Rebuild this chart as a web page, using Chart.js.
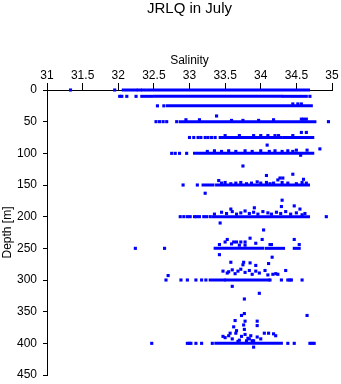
<!DOCTYPE html>
<html>
<head>
<meta charset="utf-8">
<script src="https://cdn.jsdelivr.net/npm/chart.js@4"></script>
<style>
  body { margin: 0; background: #fff; }
</style>
</head>
<body>
<canvas id="ctdChart" width="341" height="384"></canvas>
<script>
// salinity ticks and depth ticks
var salTicks = [31, 31.5, 32, 32.5, 33, 33.5, 34, 34.5, 35];
var depthTicks = [0, 50, 100, 150, 200, 250, 300, 350, 400, 450];

// dense runs of samples at the standard depths (start / end salinity)
var runDepth = [0, 0, 0, 0, 10, 10, 10, 25, 50, 75, 75, 100, 150, 150, 200, 250, 250, 250, 300, 300, 400];
var runFrom  = [32.07, 32.28, 32.34, 32.42, 32.33, 32.51, 34.32, 32.69, 32.87, 33.43, 34.33, 33.07, 33.19, 33.38, 33.33, 33.36, 34.08, 34.47, 33.29, 33.51, 33.37];
var runTo    = [32.25, 32.31, 32.38, 34.67, 32.47, 34.29, 34.64, 34.71, 34.76, 34.29, 34.73, 34.73, 33.33, 34.67, 34.67, 34.03, 34.32, 34.54, 33.49, 34.11, 34.29];

// single samples
var dotSal = [
  31.33, 31.95,
  32.02, 32.05, 32.12, 32.25, 34.69,
  32.55, 32.64, 34.45, 34.52, 34.57,
  32.53, 32.58, 32.63, 32.68, 32.82, 34.95, 33.38, 32.95, 33.14, 33.59, 33.75, 33.97, 34.18, 34.57, 34.60, 34.64,
  33.00, 33.06, 33.12, 33.16, 33.22, 33.26, 33.31, 33.36, 34.57, 34.64, 33.50, 33.70, 33.90, 34.00, 34.10, 34.20, 34.25, 34.45,
  32.75, 32.80, 32.86, 32.96, 34.83, 34.09, 34.50, 34.65, 34.56, 33.25, 33.35, 33.45, 33.55, 33.65, 33.78, 33.88, 34.00, 34.12, 34.20, 34.30, 34.38, 34.45, 33.75,
  32.91, 33.11, 34.08, 34.45, 34.60, 33.41, 34.27, 34.31, 34.24, 33.22, 33.45, 33.50, 33.58, 33.65, 33.72, 33.80, 33.87, 33.95, 34.00, 34.08, 34.13, 34.18, 34.30, 34.38, 34.50, 34.58, 34.64,
  32.87, 32.92, 32.97, 33.01, 33.07, 33.10, 33.14, 33.20, 33.24, 33.29, 34.92, 34.30, 34.47, 34.29, 33.91, 33.58, 34.55,
  33.35, 33.45, 33.52, 33.60, 33.66, 33.72, 33.78, 33.84, 33.90, 33.96, 34.03, 34.10, 34.15, 34.22, 34.28, 34.35, 34.42, 34.50, 34.58, 34.62, 33.43,
  32.24, 32.65, 34.04, 33.85, 34.02, 34.47, 33.53, 33.50, 33.62, 33.66, 33.72, 33.78, 33.93, 34.54, 34.15, 34.13, 33.42, 33.59, 33.70, 33.78, 33.42, 34.16,
  32.67, 32.88, 32.97, 33.09, 33.17, 33.23, 34.13, 34.29, 34.38, 34.41, 34.43, 34.58, 32.70, 33.58, 33.76, 33.85, 33.93, 34.11, 33.75, 34.35, 33.47, 33.53,
  33.55, 33.60, 33.64, 33.68, 33.72, 33.78, 33.84, 33.88, 33.93, 33.98, 34.06, 34.10, 34.17, 34.21, 34.24, 33.60, 33.98, 33.77,
  32.47, 32.97, 33.00, 33.02, 33.09, 33.17, 33.32, 34.38, 34.47, 34.69, 34.72, 34.75, 33.77, 33.73, 34.65, 33.64, 33.78, 33.95, 33.95, 33.76, 33.62, 33.66, 33.57, 33.77,
  33.47, 33.50, 33.55, 33.60, 33.65, 33.70, 33.73, 33.78, 33.82, 33.86, 33.90, 33.95, 34.00, 34.05, 34.11, 34.18, 34.21, 33.68, 33.80, 33.88, 33.84, 33.90
];
var dotDepth = [
  0, 0,
  10, 10, 10, 10, 10,
  25, 25, 22, 22, 22,
  50, 50, 50, 50, 50, 50, 41, 47, 47, 48, 48, 48, 47, 46, 46, 46,
  75, 75, 75, 75, 75, 75, 75, 75, 67, 67, 72, 72, 72, 72, 72, 72, 72, 72,
  100, 100, 100, 100, 93, 87, 95, 95, 103, 97, 96, 97, 96, 97, 96, 97, 96, 97, 96, 97, 96, 97, 120,
  150, 150, 135, 133, 141, 143, 139, 139, 142, 163, 147, 146, 148, 147, 146, 148, 147, 145, 147, 146, 148, 147, 146, 147, 148, 146, 147,
  200, 200, 200, 200, 200, 200, 200, 200, 200, 200, 200, 174, 183, 184, 186, 188, 188,
  196, 193, 195, 192, 196, 194, 191, 195, 193, 196, 192, 194, 196, 193, 195, 192, 196, 194, 197, 195, 210,
  250, 250, 221, 234, 236, 236, 236, 240, 240, 240, 240, 240, 242, 244, 244, 244, 244, 243, 245, 245, 260, 264,
  300, 300, 300, 300, 300, 300, 300, 300, 300, 300, 300, 300, 293, 272, 272, 273, 277, 274, 276, 285, 286, 289,
  287, 284, 290, 286, 283, 288, 285, 291, 286, 289, 285, 292, 291, 290, 291, 310, 321, 330,
  400, 400, 400, 400, 400, 400, 400, 400, 400, 400, 400, 400, 353, 356, 356, 364, 365, 365, 372, 371, 374, 380, 384, 378,
  389, 391, 388, 393, 384, 395, 389, 386, 392, 388, 396, 390, 393, 384, 384, 385, 388, 397, 396, 396, 393, 406
];

var blue = '#0000ff';
Chart.defaults.font.family = "'Liberation Sans', Arial, sans-serif";
Chart.defaults.color = '#000';

var datasets = [];
for (var i = 0; i < runDepth.length; i++) {
  datasets.push({
    type: 'line',
    data: [{x: runFrom[i], y: runDepth[i]}, {x: runTo[i], y: runDepth[i]}],
    borderColor: blue,
    borderWidth: 3,
    borderCapStyle: 'square',
    pointRadius: 0,
    clip: false
  });
}
var dots = [];
for (var i = 0; i < dotSal.length; i++) {
  dots.push({x: dotSal[i], y: dotDepth[i]});
}
datasets.push({
  type: 'scatter',
  data: dots,
  pointStyle: 'rect',
  pointRadius: 2.2,
  pointBorderWidth: 0,
  backgroundColor: blue,
  clip: false
});

// main title centred over the plot area
var topTitle = {
  id: 'topTitle',
  afterDraw: function (chart) {
    var ctx = chart.ctx, a = chart.chartArea;
    ctx.save();
    ctx.font = "15px 'Liberation Sans', Arial, sans-serif";
    ctx.fillStyle = '#000';
    ctx.textAlign = 'center';
    ctx.textBaseline = 'middle';
    ctx.fillText('JRLQ in July', (a.left + a.right) / 2, 9);
    ctx.restore();
  }
};

function noPad(s) {
  s.paddingTop = 0; s.paddingBottom = 0; s.paddingLeft = 0; s.paddingRight = 0;
}

new Chart(document.getElementById('ctdChart'), {
  type: 'scatter',
  data: { datasets: datasets },
  plugins: [topTitle],
  options: {
    responsive: false,
    animation: false,
    devicePixelRatio: 1,
    layout: { padding: { top: 0, left: 0, right: 9, bottom: 9 } },
    plugins: {
      legend: { display: false },
      tooltip: { enabled: false },
      title: { display: false }
    },
    scales: {
      x: {
        type: 'linear',
        position: 'top',
        min: salTicks[0],
        max: salTicks[salTicks.length - 1],
        afterBuildTicks: function (s) { s.ticks = salTicks.map(function (v) { return {value: v}; }); },
        ticks: { padding: 0, maxRotation: 0, autoSkip: false, font: { size: 12 },
                 callback: function (v) { return String(v); } },
        grid: { drawOnChartArea: false, tickLength: 7, color: '#000' },
        border: { color: '#000' },
        title: { display: true, text: 'Salinity', font: { size: 12 }, padding: { top: 53, bottom: 0 } },
        afterFit: function (s) { s.height = 90; noPad(s); }
      },
      y: {
        type: 'linear',
        reverse: true,
        min: depthTicks[0],
        max: depthTicks[depthTicks.length - 1],
        afterBuildTicks: function (s) { s.ticks = depthTicks.map(function (v) { return {value: v}; }); },
        ticks: { padding: 6, autoSkip: false, font: { size: 12 },
                 callback: function (v) { return String(v); } },
        grid: { drawOnChartArea: false, tickLength: 4, color: '#000' },
        border: { color: '#000' },
        title: { display: true, text: 'Depth [m]', font: { size: 12 }, padding: { top: 0, bottom: 0 } },
        afterFit: function (s) { s.width = 47; noPad(s); }
      }
    }
  }
});
</script>
</body>
</html>
